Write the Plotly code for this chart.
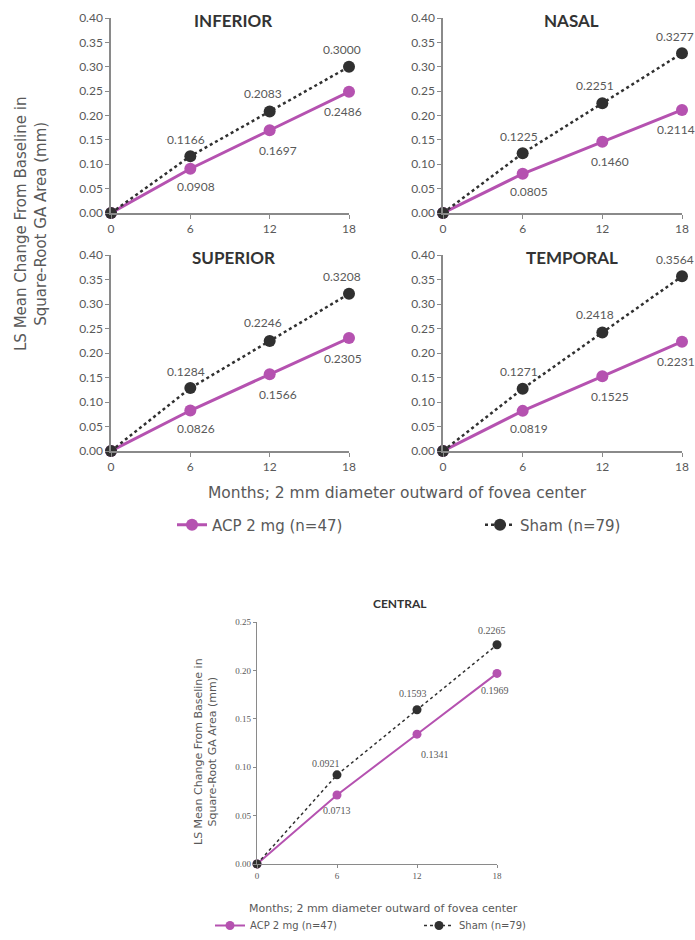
import plotly.graph_objects as go

months = [0, 6, 12, 18]
month_ticks = ["0", "6", "12", "18"]

inferior_acp = [0, 0.0908, 0.1697, 0.2486]
inferior_sham = [0, 0.1166, 0.2083, 0.3000]
nasal_acp = [0, 0.0805, 0.1460, 0.2114]
nasal_sham = [0, 0.1225, 0.2251, 0.3277]
superior_acp = [0, 0.0826, 0.1566, 0.2305]
superior_sham = [0, 0.1284, 0.2246, 0.3208]
temporal_acp = [0, 0.0819, 0.1525, 0.2231]
temporal_sham = [0, 0.1271, 0.2418, 0.3564]
central_acp = [0, 0.0713, 0.1341, 0.1969]
central_sham = [0, 0.0921, 0.1593, 0.2265]

panel_names = ["INFERIOR", "NASAL", "SUPERIOR", "TEMPORAL"]
acp_name = "ACP 2 mg (n=47)"
sham_name = "Sham (n=79)"

ACP_COLOR = "#B552B0"
SHAM_COLOR = "#303030"
AXIS_COLOR = "#8a8a8a"
TEXT_COLOR = "#595959"

W, H = 695, 940

def fx(px):
    return px / W

def fy(py):
    return 1 - py / H

def px_x(a, b):
    return [fx(a), fx(b)]

def px_y(top, bottom):
    return [fy(bottom), fy(top)]

def paper_note(cx, cy, text, font, **kw):
    return dict(x=fx(cx), y=fy(cy), xref="paper", yref="paper", text=text,
                showarrow=False, xanchor="center", yanchor="middle", font=font, **kw)

# panel layout in window pixels: (left, right, top, bottom)
panels = [
    ("x", "y", (111, 349, 18, 213), inferior_acp, inferior_sham),
    ("x2", "y2", (443, 682, 18, 213), nasal_acp, nasal_sham),
    ("x3", "y3", (111, 349, 255, 451), superior_acp, superior_sham),
    ("x4", "y4", (443, 682, 255, 451), temporal_acp, temporal_sham),
]

fig = go.Figure()
annotations = []

sham_shift = [(-4, 17), (-7, 18), (-7, 17)]
acp_shift = [(6, -18), (8, -20), (-6, -20)]
lbl_font = dict(family="Lato", size=12, color=TEXT_COLOR)

for i, (xa, ya, box, acp, sham) in enumerate(panels):
    first = i == 0
    fig.add_trace(go.Scatter(
        x=months, y=acp, xaxis=xa, yaxis=ya, mode="lines+markers",
        name=acp_name, legend="legend", showlegend=first,
        line=dict(color=ACP_COLOR, width=3),
        marker=dict(color=ACP_COLOR, size=12), cliponaxis=False))
    fig.add_trace(go.Scatter(
        x=months, y=sham, xaxis=xa, yaxis=ya, mode="lines+markers",
        name=sham_name, legend="legend3", showlegend=first,
        line=dict(color=SHAM_COLOR, width=2.5, dash="dot"),
        marker=dict(color=SHAM_COLOR, size=12), cliponaxis=False))
    for k in range(1, 4):
        annotations.append(dict(
            x=months[k], y=sham[k], xref=xa, yref=ya, text=f"{sham[k]:.4f}",
            showarrow=False, xanchor="center", yanchor="middle",
            xshift=sham_shift[k - 1][0], yshift=sham_shift[k - 1][1], font=lbl_font))
        annotations.append(dict(
            x=months[k], y=acp[k], xref=xa, yref=ya, text=f"{acp[k]:.4f}",
            showarrow=False, xanchor="center", yanchor="middle",
            xshift=acp_shift[k - 1][0], yshift=acp_shift[k - 1][1], font=lbl_font))
    l, r, t, b = box
    axis_common = dict(showline=True, linecolor=AXIS_COLOR, linewidth=1.5,
                       ticks="outside", ticklen=4, tickcolor=AXIS_COLOR,
                       showgrid=False, zeroline=False, automargin=False,
                       tickfont=dict(family="Lato", size=12, color=TEXT_COLOR))
    fig.layout[("xaxis" + xa[1:])] = dict(
        domain=px_x(l, r), range=[0, 18], tickvals=months, ticktext=month_ticks,
        anchor=ya, **axis_common)
    fig.layout[("yaxis" + ya[1:])] = dict(
        domain=px_y(t, b), range=[0, 0.40], dtick=0.05, tickformat=".2f",
        anchor=xa, **axis_common)

# panel titles
title_font = dict(family="Lato", size=17, color="#333333")
title_pos = [(233, 21), (571, 21), (233, 257), (572, 257)]
for name, (cx, cy) in zip(panel_names, title_pos):
    annotations.append(paper_note(cx, cy, f"<b>{name}</b>", title_font))

axis_title_font = dict(family="DejaVu Sans", size=15, color=TEXT_COLOR)
annotations.append(paper_note(
    31, 224, "LS Mean Change From Baseline in<br>Square-Root GA Area (mm)",
    axis_title_font, textangle=-90))
annotations.append(paper_note(
    397, 493, "Months; 2 mm diameter outward of fovea center",
    dict(family="DejaVu Sans", size=15.5, color=TEXT_COLOR)))

# central panel
fig.add_trace(go.Scatter(
    x=months, y=central_acp, xaxis="x5", yaxis="y5", mode="lines+markers",
    name=acp_name, legend="legend2", showlegend=True,
    line=dict(color=ACP_COLOR, width=2),
    marker=dict(color=ACP_COLOR, size=9), cliponaxis=False))
fig.add_trace(go.Scatter(
    x=months, y=central_sham, xaxis="x5", yaxis="y5", mode="lines+markers",
    name=sham_name, legend="legend4", showlegend=True,
    line=dict(color=SHAM_COLOR, width=1.5, dash="dot"),
    marker=dict(color=SHAM_COLOR, size=9), cliponaxis=False))

c_sham_shift = [(-11, 11), (-4, 16), (-5, 14)]
c_acp_shift = [(0, -16), (18, -20), (-2, -17)]
c_lbl_font = dict(family="Liberation Serif", size=10, color=TEXT_COLOR)
for k in range(1, 4):
    annotations.append(dict(
        x=months[k], y=central_sham[k], xref="x5", yref="y5", text=f"{central_sham[k]:.4f}",
        showarrow=False, xanchor="center", yanchor="middle",
        xshift=c_sham_shift[k - 1][0], yshift=c_sham_shift[k - 1][1], font=c_lbl_font))
    annotations.append(dict(
        x=months[k], y=central_acp[k], xref="x5", yref="y5", text=f"{central_acp[k]:.4f}",
        showarrow=False, xanchor="center", yanchor="middle",
        xshift=c_acp_shift[k - 1][0], yshift=c_acp_shift[k - 1][1], font=c_lbl_font))

c_axis = dict(showline=True, linecolor=AXIS_COLOR, linewidth=1.2,
              ticks="outside", ticklen=3, tickcolor=AXIS_COLOR,
              showgrid=False, zeroline=False, automargin=False,
              tickfont=dict(family="Liberation Serif", size=9, color=TEXT_COLOR))
fig.layout["xaxis5"] = dict(domain=px_x(257, 497), range=[0, 18], tickvals=months,
                            ticktext=month_ticks, anchor="y5", **c_axis)
fig.layout["yaxis5"] = dict(domain=px_y(622, 864), range=[0, 0.25], dtick=0.05,
                            tickformat=".2f", anchor="x5", **c_axis)

annotations.append(paper_note(400, 603, "<b>CENTRAL</b>",
                              dict(family="Lato", size=12, color="#333333")))
annotations.append(paper_note(
    205, 752, "LS Mean Change From Baseline in<br>Square-Root GA Area (mm)",
    dict(family="DejaVu Sans", size=11, color=TEXT_COLOR), textangle=-90))
annotations.append(paper_note(
    383, 908, "Months; 2 mm diameter outward of fovea center",
    dict(family="DejaVu Sans", size=11, color=TEXT_COLOR)))

leg_top = dict(font=dict(family="DejaVu Sans", size=15, color=TEXT_COLOR),
               bgcolor="rgba(0,0,0,0)", xanchor="left", yanchor="middle",
               y=fy(525), orientation="h")
leg_bot = dict(font=dict(family="DejaVu Sans", size=10, color=TEXT_COLOR),
               bgcolor="rgba(0,0,0,0)", xanchor="left", yanchor="bottom",
               y=0, orientation="h")

fig.update_layout(
    template="none",
    width=W, height=H, autosize=False,
    margin=dict(l=0, r=0, t=0, b=0),
    paper_bgcolor="white", plot_bgcolor="white",
    annotations=annotations,
    legend=dict(x=fx(172), **leg_top),
    legend3=dict(x=fx(480), **leg_top),
    legend2=dict(x=fx(210), **leg_bot),
    legend4=dict(x=fx(419), **leg_bot),
)

# remove the browser's default page margin so the figure fills the window exactly
page_css = "document.body.style.margin='0';document.body.style.overflow='hidden';"
fig.write_html("out.html", post_script=page_css, config={"displayModeBar": False})
